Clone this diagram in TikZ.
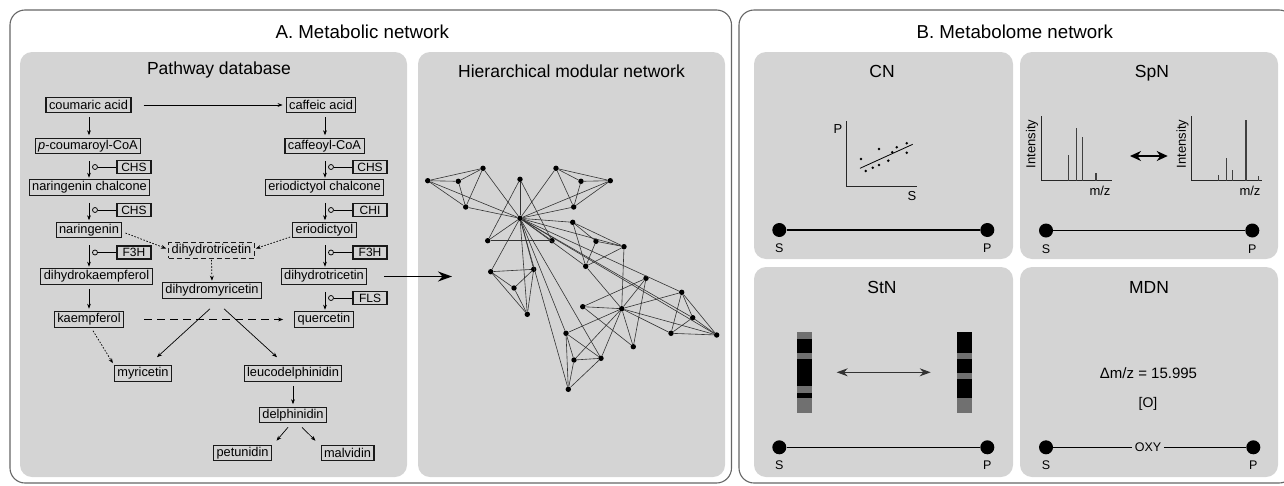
\documentclass[tikz,border=0pt]{standalone}
\usepackage{fontspec}
\setmainfont{Liberation Sans}
\usetikzlibrary{arrows.meta,calc}

\definecolor{panelgray}{HTML}{D4D4D4}
\definecolor{framegray}{HTML}{666666}
\definecolor{bandgray}{HTML}{707070}

\begin{document}
\begin{tikzpicture}[x=1pt,y=-1pt,
  frame/.style={draw=framegray,line width=1.1pt,rounded corners=15pt},
  panel/.style={fill=panelgray,rounded corners=12pt},
  bigtitle/.style={font=\fontsize{18.7}{22}\selectfont,anchor=base west},
  ptitle/.style={font=\fontsize{17.5}{20}\selectfont,anchor=base},
  cpd/.style={draw=black!90,line width=1.05pt,inner xsep=3pt,inner ysep=0pt,
    minimum height=15.5pt,font=\fontsize{12.8}{14}\selectfont},
  enz/.style={draw=black!90,line width=1.05pt,inner sep=0pt,minimum width=34pt,
    minimum height=13pt,font=\fontsize{12}{13}\selectfont},
  cat/.style={circle,draw=black,fill=panelgray,line width=0.75pt,inner sep=0pt,minimum size=5pt},
  arr/.style={-{Stealth[length=5pt,width=3.8pt]},line width=0.7pt},
  enzarr/.style={arr,shorten <=7pt,shorten >=1.5pt},
  plainarr/.style={arr,shorten <=4pt,shorten >=2.5pt},
  dotarr/.style={arr,dash pattern=on 1.6pt off 1.6pt},
  dasharr/.style={arr,dash pattern=on 8pt off 5pt},
  netdot/.style={circle,fill=black,inner sep=0pt,minimum size=5.4pt},
  netedge/.style={draw=black!80,line width=0.6pt},
  bigdot/.style={circle,fill=black,inner sep=0pt,minimum size=14pt},
  lbl/.style={font=\fontsize{13}{15}\selectfont},
  sp/.style={draw=black,line width=1.6pt},
  peak/.style={draw=black!75,line width=1.1pt},
  axis/.style={draw=black!85,line width=0.9pt}
]
\useasboundingbox (0,0) rectangle (1284,485);
\clip (0,0) rectangle (1284,485);

% ---------- frames and panels ----------
\draw[frame] (10,10) rectangle (731.5,483);
\draw[frame] (739,10) rectangle (1294,483);
\fill[panel] (20,52) rectangle (407,477);
\fill[panel] (418,52) rectangle (725,477);
\fill[panel] (754,52) rectangle (1013,259);
\fill[panel] (1020,52) rectangle (1278,259);
\fill[panel] (754,267) rectangle (1013,477);
\fill[panel] (1020,267) rectangle (1278,477);

\node[bigtitle] (tA) at (272,38) {A. Metabolic network};
\node[bigtitle] (tB) at (913,38) {B. Metabolome network};
\node[ptitle] (tPD) at (219,74.5) {Pathway database};
\node[ptitle] (tHM) at (571.5,77) {Hierarchical modular network};
\node[ptitle] (tCN) at (882,77) {CN};
\node[ptitle] (tSp) at (1152,77) {SpN};
\node[ptitle] (tSt) at (882,293) {StN};
\node[ptitle] (tMD) at (1149,293) {MDN};

% ---------- pathway database ----------
\coordinate (colL) at (89,0);
\coordinate (colR) at (325,0);

\node[cpd] (ca)  at (88.5,105) {coumaric acid};
\node[cpd] (cfa) at (321,105) {caffeic acid};
\node[cpd] (pc)  at (88,146) {\textit{p}-coumaroyl-CoA};
\node[cpd] (cfc) at (324.5,146) {caffeoyl-CoA};
\node[cpd] (nc)  at (89.5,187.5) {naringenin chalcone};
\node[cpd] (ec)  at (324.5,187.5) {eriodictyol chalcone};
\node[cpd] (nar) at (89,230) {naringenin};
\node[cpd] (eri) at (324.5,230) {eriodictyol};
\node[cpd,dash pattern=on 5pt off 3pt] (dtd) at (211.5,250.5) {dihydrotricetin};
\node[cpd] (dhk) at (96.5,276.5) {dihydrokaempferol};
\node[cpd] (dtr) at (324,276.5) {dihydrotricetin};
\node[cpd] (dhm) at (212,290.5) {dihydromyricetin};
\node[cpd] (kae) at (89,319.5) {kaempferol};
\node[cpd] (que) at (324,319.5) {quercetin};
\node[cpd] (myr) at (143,373.5) {myricetin};
\node[cpd] (leu) at (293,373.5) {leucodelphinidin};
\node[cpd] (del) at (293,415) {delphinidin};
\node[cpd] (pet) at (242.5,453) {petunidin};
\node[cpd] (mal) at (347.5,453) {malvidin};

% enzymes
\node[enz] (e1) at (134,167) {CHS};
\node[enz] (e2) at (134,210) {CHS};
\node[enz] (e3) at (134,252.5) {F3H};
\node[enz] (e4) at (370,167) {CHS};
\node[enz] (e5) at (370,210) {CHI};
\node[enz] (e6) at (370,252.5) {F3H};
\node[enz] (e7) at (370,298) {FLS};

\node[cat] (k1) at (95,167) {};
\node[cat] (k2) at (95,210) {};
\node[cat] (k3) at (95,252.5) {};
\node[cat] (k4) at (331,167) {};
\node[cat] (k5) at (331,210) {};
\node[cat] (k6) at (331,252.5) {};
\node[cat] (k7) at (331,298) {};
\foreach \k/\e in {k1/e1,k2/e2,k3/e3,k4/e4,k5/e5,k6/e6,k7/e7}
  \draw[line width=0.75pt] (\k) -- (\e);

% main-chain reactions
\draw[plainarr] (ca.south -| colL) -- (pc.north -| colL);
\draw[enzarr] (pc.south -| colL) -- (nc.north -| colL);
\draw[enzarr] (nc.south -| colL) -- (nar.north -| colL);
\draw[enzarr] (nar.south -| colL) -- (dhk.north -| colL);
\draw[plainarr] (dhk.south -| colL) -- (kae.north -| colL);
\draw[plainarr] (cfa.south -| colR) -- (cfc.north -| colR);
\draw[enzarr] (cfc.south -| colR) -- (ec.north -| colR);
\draw[enzarr] (ec.south -| colR) -- (eri.north -| colR);
\draw[enzarr] (eri.south -| colR) -- (dtr.north -| colR);
\draw[enzarr] (dtr.south -| colR) -- (que.north -| colR);
\draw[arr,shorten <=12pt,shorten >=3pt] (ca.east) -- (cfa.west);

% side reactions
\draw[dotarr] ($(nar.east)+(3,3)$) -- ($(dtd.west)+(-2,-2)$);
\draw[dotarr] ($(eri.west)+(-2,7)$) -- ($(dtd.east)+(1,-2)$);
\draw[dotarr,shorten <=1pt,shorten >=1.5pt] (dtd.south) -- (dhm.north);
\draw[dotarr] ($(kae.south)+(4,3)$) -- ($(myr.north west)+(-1,-2)$);
\draw[dasharr,shorten <=20pt,shorten >=11pt] (kae.east) -- (que.west);
\draw[arr] ($(dhm.south)+(-2,10)$) -- ($(myr.north)+(14,-8)$);
\draw[arr] ($(dhm.south)+(12,10)$) -- ($(leu.north)+(-16,-8)$);
\draw[plainarr] (leu.south) -- (del.north);
\draw[arr] ($(del.south)+(-5,4)$) -- ($(pet.north)+(34,-4)$);
\draw[arr] ($(del.south)+(9,4)$) -- ($(mal.north)+(-32,-4)$);

% ---------- hierarchical modular network ----------
\foreach \i/\x/\y in {1/427.7/180.7,2/458.3/181.3,3/483/168.3,4/465.7/207,
  5/520/179.3,6/520/218.3,7/556/168.3,8/581/181.3,9/610.3/180.7,10/573.7/207,
  11/487.7/240.7,12/552/240.7,13/572.7/222.3,14/596/241.3,15/624/246.7,
  16/585.7/266.3,17/490.7/271.7,18/533.7/269.3,19/514/288,20/527.3/314.3,
  21/646/278.3,22/582.7/306.7,23/621.7/308.7,24/681.7/292.3,25/692.7/317.7,
  26/671/333.3,27/716.7/335,28/633.3/346.7,29/566/333.3,30/574/360,
  31/601/358.3,32/568.3/389.3}
  \node[netdot] (n\i) at (\x,\y) {};

\foreach \a/\b in {1/2,1/3,1/4,2/3,2/4,3/4,
  5/6,5/11,5/12,6/11,6/12,11/12,
  7/8,7/9,7/10,8/9,8/10,9/10,
  13/14,13/15,13/16,14/15,14/16,15/16,
  17/18,17/19,17/20,18/19,18/20,19/20,
  21/22,21/23,21/28,22/23,22/28,23/28,
  24/25,24/26,24/27,25/26,25/27,26/27,
  29/30,29/31,29/32,30/31,30/32,31/32,
  6/1,6/3,6/4,6/7,6/9,6/10,6/13,6/15,6/16,6/17,6/18,6/20,
  6/24,6/25,6/27,6/29,6/31,6/32,
  23/15,23/16,23/24,23/26,23/27,23/29,23/30,23/31}
  \draw[netedge] (n\a) -- (n\b);

\draw[-{Stealth[length=14pt,width=10pt]},line width=1.2pt,shorten <=17pt]
  (dtr.east) -- (452,276.5) coordinate (netin);

% ---------- CN ----------
\draw[axis] (846,121) -- (846,186) -- (917,186);
\node[lbl] (cnP) at (838,129) {P};
\node[lbl] (cnS) at (912,196) {S};
\foreach \x/\y in {861/159,865.7/171,872.7/167.7,879/165,879/149,888.3/160.7,
  892.3/152.3,896.7/147.3,906.7/143.3,906.7/152.7}
  \fill (\x,\y) circle (1.4pt);
\draw[line width=0.8pt] (860,168.3) -- (912.7,144.3);

% ---------- SpN ----------
\draw[axis] (1041,116) -- (1041,180.7) -- (1111.7,180.7);
\draw[peak] (1068.3,180.7) -- (1068.3,155);
\draw[peak] (1076.3,180.7) -- (1076.3,128.3);
\draw[peak] (1082.7,180.7) -- (1082.7,137.3);
\draw[peak] (1096,180.7) -- (1096,173.3);
\node[lbl,rotate=90] (iy1) at (1032,144) {Intensity};
\node[lbl] (mz1) at (1100,190.8) {m/z};
\draw[axis] (1191.7,116) -- (1191.7,180.7) -- (1261.7,180.7);
\draw[peak] (1218.3,180.7) -- (1218.3,175);
\draw[peak] (1226.7,180.7) -- (1226.7,158.3);
\draw[peak] (1232.7,180.7) -- (1232.7,170);
\draw[peak] (1246,180.7) -- (1246,120);
\draw[peak] (1258.3,180.7) -- (1258.3,175.7);
\node[lbl,rotate=90] (iy2) at (1182.5,144) {Intensity};
\node[lbl] (mz2) at (1250,190.8) {m/z};
\draw[{Stealth[length=11pt,width=10pt]}-{Stealth[length=11pt,width=10pt]},line width=1.6pt]
  (1130,156) coordinate (spa) -- (1167.7,156) coordinate (spb);

% ---------- StN ----------
\fill[bandgray] (796.7,331.7) rectangle (811.7,412.7);
\fill[black] (796.7,339.3) rectangle (811.7,352.7);
\fill[black] (796.7,359.3) rectangle (811.7,386);
\fill[black] (796.7,392.7) rectangle (811.7,398.3);
\fill[bandgray] (956.7,331.7) rectangle (971.7,412.7);
\fill[black] (956.7,331.7) rectangle (971.7,352.7);
\fill[black] (956.7,359.3) rectangle (971.7,372.7);
\fill[black] (956.7,379.3) rectangle (971.7,398.3);
\draw[{Stealth[length=11pt,width=8pt]}-{Stealth[length=11pt,width=8pt]},line width=1pt,draw=black!80]
  (836.7,372.3) coordinate (sta) -- (930.7,372.3) coordinate (stb);

% ---------- MDN ----------
\node[font=\fontsize{15}{18}\selectfont] (dmz) at (1148.5,373.5) {Δm/z = 15.995};
\node[font=\fontsize{14}{17}\selectfont] (oxg) at (1148,404) {[O]};

% ---------- S--P links ----------
\node[bigdot] (s1) at (779.3,230) {};
\node[bigdot] (p1) at (987.3,230) {};
\node[bigdot] (s2) at (1046,230.5) {};
\node[bigdot] (p2) at (1252.3,230.5) {};
\node[bigdot] (s3) at (779.3,447.3) {};
\node[bigdot] (p3) at (987.3,447.3) {};
\node[bigdot] (s4) at (1046,447.3) {};
\node[bigdot] (p4) at (1253.3,447.3) {};
\draw[sp] (s1) -- (p1);
\draw[sp] (s2) -- (p2);
\draw[sp] (s3) -- (p3);
\node[font=\fontsize{12.5}{14}\selectfont,inner xsep=2.5pt,inner ysep=0pt] (oxy) at (1148,447.3) {OXY};
\draw[sp] (s4) -- (oxy);
\draw[sp] (oxy) -- (p4);
\foreach \d/\t in {s1/S,p1/P,s2/S,p2/P,s3/S,p3/P,s4/S,p4/P}
  \node[font=\fontsize{12.5}{14}\selectfont,anchor=base] at ($(\d)+(0,22.5)$) {\t};
\end{tikzpicture}
\end{document}
